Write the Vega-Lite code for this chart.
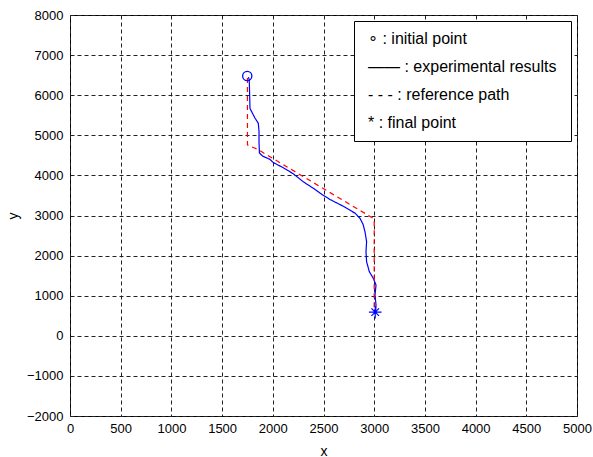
{
  "$schema": "https://vega.github.io/schema/vega-lite/v6.json",
  "width": 507,
  "height": 401,
  "autosize": {"type": "none"},
  "padding": {"left": 70, "top": 15, "right": 16, "bottom": 41},
  "background": "white",
  "config": {
    "view": {"stroke": "black", "strokeWidth": 1},
    "font": "Liberation Sans",
    "axis": {
      "gridColor": "#222222",
      "gridDash": [4, 3],
      "gridOpacity": 1,
      "gridWidth": 1,
      "domain": false,
      "ticks": false,
      "labelFontSize": 13,
      "labelColor": "black",
      "labelFont": "Liberation Sans",
      "titleFontSize": 14,
      "titleFontWeight": "normal",
      "titleColor": "black",
      "titleFont": "Liberation Sans",
      "labelFlush": false,
      "labelOverlap": false,
      "format": "d"
    }
  },
  "data": {
    "values": [
      {"series": "experimental results", "i": 1, "x": 1760, "y": 6450},
      {"series": "experimental results", "i": 2, "x": 1768, "y": 6380},
      {"series": "experimental results", "i": 3, "x": 1775, "y": 5670},
      {"series": "experimental results", "i": 4, "x": 1824, "y": 5430},
      {"series": "experimental results", "i": 5, "x": 1857, "y": 5300},
      {"series": "experimental results", "i": 6, "x": 1864, "y": 5100},
      {"series": "experimental results", "i": 7, "x": 1864, "y": 4840},
      {"series": "experimental results", "i": 8, "x": 1868, "y": 4560},
      {"series": "experimental results", "i": 9, "x": 1900, "y": 4480},
      {"series": "experimental results", "i": 10, "x": 1972, "y": 4400},
      {"series": "experimental results", "i": 11, "x": 2005, "y": 4320},
      {"series": "experimental results", "i": 12, "x": 2104, "y": 4190},
      {"series": "experimental results", "i": 13, "x": 2202, "y": 4040},
      {"series": "experimental results", "i": 14, "x": 2301, "y": 3840},
      {"series": "experimental results", "i": 15, "x": 2399, "y": 3680},
      {"series": "experimental results", "i": 16, "x": 2482, "y": 3530},
      {"series": "experimental results", "i": 17, "x": 2564, "y": 3400},
      {"series": "experimental results", "i": 18, "x": 2695, "y": 3230},
      {"series": "experimental results", "i": 19, "x": 2813, "y": 3054},
      {"series": "experimental results", "i": 20, "x": 2860, "y": 2930},
      {"series": "experimental results", "i": 21, "x": 2890, "y": 2780},
      {"series": "experimental results", "i": 22, "x": 2909, "y": 2597},
      {"series": "experimental results", "i": 23, "x": 2925, "y": 2347},
      {"series": "experimental results", "i": 24, "x": 2919, "y": 2097},
      {"series": "experimental results", "i": 25, "x": 2925, "y": 1848},
      {"series": "experimental results", "i": 26, "x": 2952, "y": 1599},
      {"series": "experimental results", "i": 27, "x": 2991, "y": 1433},
      {"series": "experimental results", "i": 28, "x": 3018, "y": 1267},
      {"series": "experimental results", "i": 29, "x": 3008, "y": 1017},
      {"series": "experimental results", "i": 30, "x": 3018, "y": 768},
      {"series": "experimental results", "i": 31, "x": 3015, "y": 600},
      {"series": "reference path", "i": 1, "x": 1750, "y": 6430},
      {"series": "reference path", "i": 2, "x": 1750, "y": 4760},
      {"series": "reference path", "i": 3, "x": 1850, "y": 4650},
      {"series": "reference path", "i": 4, "x": 2990, "y": 2930},
      {"series": "reference path", "i": 5, "x": 3000, "y": 2900},
      {"series": "reference path", "i": 6, "x": 3000, "y": 640},
      {"series": "initial point", "i": 1, "x": 1748, "y": 6480},
      {"series": "final point", "i": 1, "x": 3010, "y": 590}
    ]
  },
  "layer": [
    {
      "transform": [{"filter": "datum.series == 'experimental results' || datum.series == 'reference path'"}],
      "mark": {"type": "line", "strokeWidth": 1.2},
      "encoding": {
        "x": {
          "field": "x", "type": "quantitative",
          "scale": {"domain": [0, 5000], "nice": false, "zero": false},
          "axis": {"values": [0, 500, 1000, 1500, 2000, 2500, 3000, 3500, 4000, 4500, 5000], "title": "x", "labelPadding": 6, "titlePadding": 9}
        },
        "y": {
          "field": "y", "type": "quantitative",
          "scale": {"domain": [-2000, 8000], "nice": false, "zero": false},
          "axis": {"values": [-2000, -1000, 0, 1000, 2000, 3000, 4000, 5000, 6000, 7000, 8000], "title": "y", "labelPadding": 7, "titlePadding": 6}
        },
        "color": {
          "field": "series", "type": "nominal",
          "scale": {
            "domain": ["initial point", "experimental results", "reference path", "final point"],
            "range": ["#0000ff", "#0000ff", "#ff0000", "#0000ff"]
          },
          "legend": {
            "title": null,
            "orient": "top-right",
            "offset": 6,
            "strokeColor": "black",
            "fillColor": "white",
            "padding": 10,
            "cornerRadius": 0,
            "symbolType": "circle",
            "symbolSize": 0,
            "symbolOpacity": 0,
            "symbolStrokeWidth": 0,
            "labelOffset": -12,
            "labelFontSize": 16,
            "labelColor": "black",
            "labelFont": "Liberation Sans",
            "labelLimit": 400,
            "rowPadding": 12,
            "labelExpr": "datum.label == 'initial point' ? '∘ : initial point' : datum.label == 'experimental results' ? '——  : experimental results\u00a0\u00a0\u00a0' : datum.label == 'reference path' ? '- - -  : reference path' : '* : final point'"
          }
        },
        "strokeDash": {
          "field": "series", "type": "nominal",
          "scale": {"domain": ["experimental results", "reference path"], "range": [[1, 0], [5, 4]]},
          "legend": null
        },
        "order": {"field": "i", "type": "quantitative"}
      }
    },
    {
      "transform": [{"filter": "datum.series == 'initial point'"}],
      "mark": {"type": "point", "shape": "circle", "filled": false, "color": "#0000ff", "size": 85, "strokeWidth": 1.3, "opacity": 1},
      "encoding": {
        "x": {"field": "x", "type": "quantitative"},
        "y": {"field": "y", "type": "quantitative"}
      }
    },
    {
      "transform": [{"filter": "datum.series == 'final point'"}],
      "mark": {"type": "point", "shape": "M-1,0L1,0M0,-1L0,1M-0.6,-0.6L0.6,0.6M-0.6,0.6L0.6,-0.6", "filled": false, "color": "#0000ff", "size": 160, "strokeWidth": 1.2, "opacity": 1},
      "encoding": {
        "x": {"field": "x", "type": "quantitative"},
        "y": {"field": "y", "type": "quantitative"}
      }
    }
  ]
}
